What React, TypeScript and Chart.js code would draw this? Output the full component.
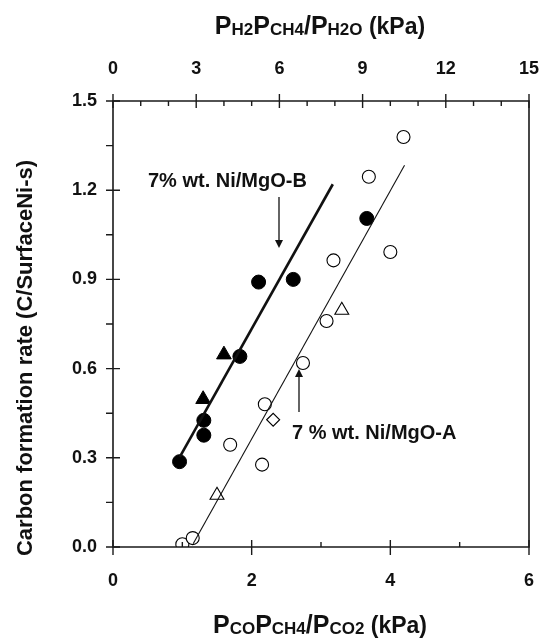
import { useEffect, useRef } from "react";
import { Chart, registerables } from "chart.js";

Chart.register(...registerables);

const FONT = "'Liberation Sans', Arial, Helvetica, sans-serif";

// Catalyst B (filled markers)
const bCircles = [
  { x: 0.96, y: 0.287 },
  { x: 1.31, y: 0.376 },
  { x: 1.31, y: 0.426 },
  { x: 1.83, y: 0.641 },
  { x: 2.1, y: 0.891 },
  { x: 2.6, y: 0.9 },
  { x: 3.66, y: 1.105 },
];
const bTriangles = [
  { x: 1.3, y: 0.497 },
  { x: 1.6, y: 0.647 },
];
// Catalyst A (open markers)
const aCircles = [
  { x: 1.0, y: 0.009 },
  { x: 1.15, y: 0.03 },
  { x: 1.69, y: 0.344 },
  { x: 2.15, y: 0.277 },
  { x: 2.19, y: 0.48 },
  { x: 2.74, y: 0.619 },
  { x: 3.08, y: 0.76 },
  { x: 3.18, y: 0.964 },
  { x: 4.0, y: 0.992 },
  { x: 3.69, y: 1.245 },
  { x: 4.19, y: 1.379 },
];
const aTriangles = [
  { x: 1.5, y: 0.174 },
  { x: 3.3, y: 0.796 },
];
const aDiamonds = [{ x: 2.31, y: 0.428 }];

const fitB = [
  { x: 0.964, y: 0.303 },
  { x: 3.17, y: 1.22 },
];
const fitA = [
  { x: 1.156, y: 0.011 },
  { x: 4.205, y: 1.284 },
];

const yTickValues = [0, 0.3, 0.6, 0.9, 1.2, 1.5];
const yMinorValues = [0.15, 0.45, 0.75, 1.05, 1.35];
const xTickValues = [0, 2, 4, 6];
const xMinorValues = [1, 3, 5];
const x2TickValues = [0, 3, 6, 9, 12, 15];
const x2MinorValues = [1, 2, 4, 5, 7, 8, 10, 11, 13, 14];

const labelB = "7% wt. Ni/MgO-B";
const labelA = "7 % wt. Ni/MgO-A";
const yTitle = "Carbon formation rate (C/SurfaceNi-s)";
// [text, font size, baseline shift]
const bottomTitleRuns: [string, number, number][] = [
  ["P", 25, 0],
  ["CO", 17, 1],
  ["P", 25, 0],
  ["CH4", 17, 1],
  ["/P", 25, 0],
  ["CO2", 17, 1],
  [" (kPa)", 23, 0],
];
const topTitleRuns: [string, number, number][] = [
  ["P", 25, 0],
  ["H2", 17, 1],
  ["P", 25, 0],
  ["CH4", 17, 1],
  ["/P", 25, 0],
  ["H2O", 17, 1],
  [" (kPa)", 23, 0],
];

function drawRuns(ctx: CanvasRenderingContext2D, runs: [string, number, number][], cx: number, baseline: number) {
  const widths = runs.map(([t, size]) => {
    ctx.font = `bold ${size}px ${FONT}`;
    return ctx.measureText(t).width;
  });
  const total = widths.reduce((a, b) => a + b, 0);
  let x = cx - total / 2;
  ctx.textAlign = "left";
  ctx.textBaseline = "alphabetic";
  runs.forEach(([t, size, shift], i) => {
    ctx.font = `bold ${size}px ${FONT}`;
    ctx.fillText(t, x, baseline + shift);
    x += widths[i];
  });
}

function arrow(ctx: CanvasRenderingContext2D, x: number, y0: number, y1: number) {
  const dir = y1 > y0 ? 1 : -1;
  const hl = 8;
  const hw = 4;
  ctx.beginPath();
  ctx.moveTo(x, y0);
  ctx.lineTo(x, y1 - dir * hl);
  ctx.lineWidth = 1.3;
  ctx.strokeStyle = "#111";
  ctx.stroke();
  ctx.beginPath();
  ctx.moveTo(x, y1);
  ctx.lineTo(x - hw, y1 - dir * hl);
  ctx.lineTo(x + hw, y1 - dir * hl);
  ctx.closePath();
  ctx.fillStyle = "#111";
  ctx.fill();
}

const decorPlugin = {
  id: "decor",
  afterDraw(chart: any) {
    const ctx: CanvasRenderingContext2D = chart.ctx;
    const { left, right, top, bottom } = chart.chartArea;
    const xs = chart.scales.x;
    const x2 = chart.scales.x2;
    const ys = chart.scales.y;
    ctx.save();
    ctx.strokeStyle = "#1a1a1a";
    ctx.lineWidth = 1.6;
    ctx.beginPath();
    ctx.rect(left, top, right - left, bottom - top);
    ctx.stroke();
    ctx.lineWidth = 1.4;
    ctx.beginPath();
    yTickValues.forEach((v) => {
      const p = ys.getPixelForValue(v);
      ctx.moveTo(left - 7, p);
      ctx.lineTo(left + 7, p);
    });
    yMinorValues.forEach((v) => {
      const p = ys.getPixelForValue(v);
      ctx.moveTo(left - 7, p);
      ctx.lineTo(left, p);
    });
    xTickValues.forEach((v) => {
      const p = xs.getPixelForValue(v);
      ctx.moveTo(p, bottom - 7);
      ctx.lineTo(p, bottom + 8);
    });
    xMinorValues.forEach((v) => {
      const p = xs.getPixelForValue(v);
      ctx.moveTo(p, bottom - 5);
      ctx.lineTo(p, bottom);
    });
    x2TickValues.forEach((v) => {
      const p = x2.getPixelForValue(v);
      ctx.moveTo(p, top - 7);
      ctx.lineTo(p, top + 7);
    });
    x2MinorValues.forEach((v) => {
      const p = x2.getPixelForValue(v);
      ctx.moveTo(p, top);
      ctx.lineTo(p, top + 5);
    });
    ctx.stroke();

    ctx.fillStyle = "#111";
    drawRuns(ctx, topTitleRuns, 320, 34);
    drawRuns(ctx, bottomTitleRuns, 320, 633);
    ctx.save();
    ctx.translate(32, 358);
    ctx.rotate(-Math.PI / 2);
    ctx.font = `bold 22px ${FONT}`;
    ctx.textAlign = "center";
    ctx.textBaseline = "alphabetic";
    ctx.fillText(yTitle, 0, 0);
    ctx.restore();

    ctx.font = `bold 20px ${FONT}`;
    ctx.textAlign = "left";
    ctx.textBaseline = "middle";
    ctx.fillText(labelB, 148, 181);
    ctx.fillText(labelA, 292, 433);
    arrow(ctx, 279, 197, 248);
    arrow(ctx, 299, 412, 369);
    ctx.restore();
  },
};

export default function App() {
  const ref = useRef<HTMLCanvasElement | null>(null);
  useEffect(() => {
    document.body.style.margin = "0";
    const canvas = ref.current;
    if (!canvas) return;
    const tickFont = { family: FONT, size: 18, weight: "bold" as const };
    const chart = new Chart(canvas, {
      type: "scatter",
      data: {
        datasets: [
          {
            type: "line",
            label: "fit B",
            data: fitB,
            borderColor: "#111",
            borderWidth: 2.6,
            pointRadius: 0,
            showLine: true,
          },
          {
            type: "line",
            label: "fit A",
            data: fitA,
            borderColor: "#111",
            borderWidth: 1.1,
            pointRadius: 0,
            showLine: true,
          },
          {
            label: "B circles",
            data: bCircles,
            pointStyle: "circle",
            pointRadius: 7,
            backgroundColor: "#000",
            borderColor: "#000",
            borderWidth: 1,
          },
          {
            label: "B triangles",
            data: bTriangles,
            pointStyle: "triangle",
            pointRadius: 8.5,
            backgroundColor: "#000",
            borderColor: "#000",
            borderWidth: 1,
          },
          {
            label: "A circles",
            data: aCircles,
            pointStyle: "circle",
            pointRadius: 6.5,
            backgroundColor: "#fff",
            borderColor: "#000",
            borderWidth: 1.1,
          },
          {
            label: "A triangles",
            data: aTriangles,
            pointStyle: "triangle",
            pointRadius: 8,
            backgroundColor: "#fff",
            borderColor: "#000",
            borderWidth: 1.1,
          },
          {
            label: "A diamonds",
            data: aDiamonds,
            pointStyle: "rectRot",
            pointRadius: 6.5,
            backgroundColor: "#fff",
            borderColor: "#000",
            borderWidth: 1.1,
          },
        ],
      },
      options: {
        animation: false,
        responsive: false,
        devicePixelRatio: 1,
        layout: { padding: { left: 0, right: 14, top: 0, bottom: 0 } },
        plugins: { legend: { display: false }, tooltip: { enabled: false }, title: { display: false } },
        scales: {
          x: {
            type: "linear",
            position: "bottom",
            min: 0,
            max: 6,
            grid: { display: false, drawTicks: false },
            border: { display: false },
            ticks: { font: tickFont, color: "#111", padding: 23, maxRotation: 0 },
            afterBuildTicks: (s: any) => {
              s.ticks = xTickValues.map((v) => ({ value: v }));
            },
            afterFit: (s: any) => {
              s.height = 92;
              s.paddingLeft = 0;
              s.paddingRight = 0;
            },
          },
          x2: {
            type: "linear",
            position: "top",
            min: 0,
            max: 15,
            grid: { display: false, drawTicks: false },
            border: { display: false },
            ticks: { font: tickFont, color: "#111", padding: 21, maxRotation: 0 },
            afterBuildTicks: (s: any) => {
              s.ticks = x2TickValues.map((v) => ({ value: v }));
            },
            afterFit: (s: any) => {
              s.height = 101;
              s.paddingLeft = 0;
              s.paddingRight = 0;
            },
          },
          y: {
            type: "linear",
            position: "left",
            min: 0,
            max: 1.5,
            grid: { display: false, drawTicks: false },
            border: { display: false },
            ticks: {
              font: tickFont,
              color: "#111",
              padding: 16,
              callback: (v: any) => Number(v).toFixed(1),
            },
            afterBuildTicks: (s: any) => {
              s.ticks = yTickValues.map((v) => ({ value: v }));
            },
            afterFit: (s: any) => {
              s.width = 113;
              s.paddingTop = 0;
              s.paddingBottom = 0;
            },
          },
        },
      },
      plugins: [decorPlugin],
    } as any);
    return () => chart.destroy();
  }, []);
  return <canvas ref={ref} width={543} height={639} style={{ display: "block" }} />;
}
